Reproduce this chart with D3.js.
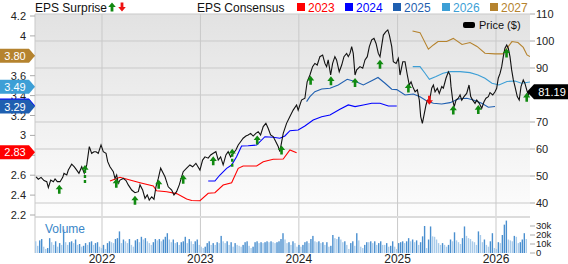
<!DOCTYPE html>
<html><head><meta charset="utf-8">
<script src="https://cdn.jsdelivr.net/npm/d3@7"></script>
<style>
body{margin:0;background:#fff;}
svg{display:block;font-family:"Liberation Sans",Arial,sans-serif;}
</style></head><body>
<div id="viz"></div>
<script>
// ---------------- data (dates as decimal years) ----------------
var years = [2022, 2023, 2024, 2025, 2026];
var priceTicks = [40, 50, 60, 70, 80, 90, 100, 110];
var epsTicks = [2.2, 2.4, 2.6, 2.8, 3, 3.2, 3.4, 3.6, 3.8, 4, 4.2];
var volTicks = [0, 10, 20, 30];

var priceT = [2021.330,2021.353,2021.381,2021.411,2021.439,2021.455,2021.479,2021.506,2021.523,2021.546,2021.574,2021.601,2021.614,2021.642,2021.658,2021.692,2021.719,2021.743,2021.766,2021.794,2021.820,2021.845,2021.871,2021.895,2021.919,2021.939,2021.962,2021.990,2022.013,2022.041,2022.058,2022.081,2022.115,2022.132,2022.149,2022.165,2022.183,2022.216,2022.244,2022.267,2022.302,2022.335,2022.369,2022.386,2022.413,2022.437,2022.460,2022.480,2022.505,2022.528,2022.548,2022.572,2022.596,2022.622,2022.640,2022.673,2022.708,2022.731,2022.758,2022.785,2022.809,2022.825,2022.860,2022.893,2022.921,2022.954,2022.995,2023.022,2023.046,2023.079,2023.104,2023.130,2023.157,2023.181,2023.205,2023.231,2023.259,2023.282,2023.307,2023.333,2023.360,2023.384,2023.408,2023.434,2023.462,2023.485,2023.510,2023.536,2023.563,2023.587,2023.611,2023.638,2023.665,2023.688,2023.713,2023.739,2023.766,2023.790,2023.807,2023.841,2023.875,2023.909,2023.942,2023.977,2023.993,2024.027,2024.061,2024.084,2024.112,2024.139,2024.162,2024.186,2024.213,2024.241,2024.264,2024.281,2024.297,2024.322,2024.342,2024.365,2024.382,2024.409,2024.434,2024.457,2024.484,2024.501,2024.518,2024.535,2024.551,2024.569,2024.586,2024.619,2024.647,2024.670,2024.693,2024.714,2024.738,2024.761,2024.782,2024.805,2024.822,2024.840,2024.856,2024.880,2024.901,2024.917,2024.941,2024.957,2024.985,2025.008,2025.025,2025.053,2025.076,2025.099,2025.119,2025.137,2025.154,2025.178,2025.201,2025.221,2025.235,2025.252,2025.269,2025.289,2025.303,2025.323,2025.347,2025.364,2025.381,2025.404,2025.424,2025.449,2025.465,2025.492,2025.516,2025.533,2025.543,2025.560,2025.576,2025.594,2025.617,2025.635,2025.652,2025.675,2025.702,2025.726,2025.743,2025.763,2025.787,2025.804,2025.830,2025.855,2025.878,2025.898,2025.922,2025.939,2025.967,2025.990,2026.007,2026.023,2026.041,2026.058,2026.074,2026.091,2026.109,2026.125,2026.142,2026.159,2026.176,2026.193,2026.216,2026.236,2026.254,2026.277,2026.294,2026.312,2026.328,2026.345];
var priceV = [49.7,48.8,49.5,48.3,47.9,45.7,48.5,47.9,48.9,47.9,47.9,49.5,51.0,50.4,52.2,54.4,53.4,52.2,51.0,53.4,51.0,54.1,60.9,58.4,59.0,59.0,58.4,61.5,59.0,58.4,55.3,53.4,51.6,49.1,50.4,47.3,48.5,49.1,48.3,46.7,44.8,43.8,44.2,46.7,44.8,41.7,43.0,41.1,42.3,41.4,46.0,49.1,52.9,51.0,49.7,46.0,44.8,43.0,44.2,46.7,49.7,51.6,52.9,54.1,53.4,54.7,52.2,55.9,57.1,56.6,57.8,58.4,59.0,55.9,57.1,54.1,57.8,59.0,57.1,58.4,59.6,61.5,62.7,64.0,64.8,65.2,65.8,64.8,65.8,66.4,65.2,68.3,69.5,67.7,65.2,64.6,62.7,60.9,59.0,65.8,69.5,72.0,74.4,76.3,74.4,78.1,78.8,84.9,87.4,90.5,91.7,91.1,94.2,94.8,91.7,90.5,93.0,87.4,91.7,94.2,93.0,88.6,91.1,94.2,95.4,94.2,95.4,97.9,95.4,87.4,89.3,90.5,89.9,93.0,94.2,97.9,100.4,101.0,99.1,95.4,94.2,98.5,102.2,103.4,104.1,102.2,97.9,92.3,91.7,93.6,87.4,92.3,92.3,87.4,83.7,84.9,83.1,81.2,81.9,78.1,72.0,69.5,72.6,76.3,78.1,77.5,82.5,83.7,81.2,82.5,80.6,83.1,82.5,86.2,88.6,87.4,83.1,78.1,75.7,78.1,78.8,80.0,78.1,79.4,80.6,83.7,79.4,78.1,76.9,78.1,76.9,75.1,77.5,78.8,79.4,80.9,80.0,81.2,82.5,86.2,88.0,90.5,94.2,97.3,98.5,97.3,94.2,89.3,85.6,83.1,79.4,78.1,83.1,85.6,84.3,81.9,80.0,81.19];

var eps2023T = [2022.081,2022.183,2022.284,2022.386,2022.521,2022.555,2022.657,2022.758,2022.860,2022.911,2022.995,2023.079,2023.147,2023.231,2023.317,2023.384,2023.434,2023.571,2023.638,2023.739,2023.841,2023.909,2023.977];
var eps2023V = [2.541,2.579,2.551,2.524,2.491,2.444,2.434,2.415,2.360,2.345,2.343,2.418,2.424,2.501,2.524,2.669,2.692,2.692,2.735,2.760,2.763,2.853,2.826];
var eps2024T = [2023.079,2023.147,2023.198,2023.266,2023.317,2023.367,2023.418,2023.485,2023.571,2023.655,2023.739,2023.807,2023.858,2023.909,2023.993,2024.061,2024.145,2024.231,2024.315,2024.416,2024.501,2024.569,2024.653,2024.738,2024.822,2024.907,2024.992];
var eps2024V = [2.541,2.541,2.602,2.669,2.702,2.786,2.893,2.896,2.903,2.987,2.981,2.971,2.994,3.047,3.054,3.095,3.155,3.188,3.205,3.263,3.306,3.289,3.306,3.323,3.323,3.296,3.296];
var eps2025T = [2024.078,2024.112,2024.162,2024.231,2024.315,2024.399,2024.490,2024.586,2024.653,2024.738,2024.802,2024.873,2024.941,2024.992,2025.076,2025.160,2025.228,2025.297,2025.364,2025.449,2025.533,2025.617,2025.703,2025.770,2025.855,2025.922,2025.990];
var eps2025V = [3.339,3.389,3.440,3.467,3.474,3.507,3.564,3.537,3.507,3.550,3.582,3.524,3.464,3.460,3.406,3.416,3.389,3.346,3.323,3.316,3.329,3.366,3.373,3.356,3.323,3.283,3.290];
var eps2026T = [2025.154,2025.228,2025.279,2025.323,2025.391,2025.462,2025.533,2025.635,2025.736,2025.817,2025.888,2025.959,2026.030,2026.112,2026.193,2026.259,2026.345];
var eps2026V = [3.691,3.691,3.625,3.564,3.591,3.625,3.641,3.641,3.631,3.608,3.574,3.524,3.507,3.542,3.547,3.524,3.537];
var eps2027T = [2025.152,2025.228,2025.313,2025.364,2025.411,2025.499,2025.566,2025.655,2025.736,2025.807,2025.888,2025.990,2026.071,2026.122,2026.162,2026.223,2026.277,2026.315,2026.345];
var eps2027V = [4.050,4.033,3.866,3.909,3.943,3.943,3.975,3.914,3.933,3.894,3.826,3.819,3.819,3.889,3.943,3.933,3.884,3.809,3.792];

var consNames = ['2023', '2024', '2025', '2026', '2027'];
var consColors = ['#ff0000', '#0000ff', '#1f5fb0', '#3d9fd6', '#b5832e'];
// the 2024 badge (3.30) sits almost fully under the 3.29 one
var badgeVals = [3.80, 3.49, 3.30, 3.29, 2.83];
var badgeColors = ['#b5832e', '#3d9fd6', '#0000ff', '#1f5fb0', '#ff0000'];
var badgeHidden = [0, 0, 1, 0, 0];
var lastPrice = 81.19;

var surpriseT = [2021.566,2021.827,2022.145,2022.335,2022.576,2022.825,2023.130,2023.323,2023.577,2023.824,2024.119,2024.325,2024.569,2024.822,2025.110,2025.323,2025.566,2025.820,2026.107,2026.312];
var surpriseDir = ['up','up','up','up','up','up','up','up','up','up','up','up','up','up','up','down','up','up','up','up'];
var surpriseDashed = [0,1,0,0,0,0,0,1,0,0,0,0,0,0,0,0,0,0,0,0];

// weekly volume, thousands
var volume = [13,8,14,15.5,7,4.5,5.5,16.5,12,9,13,7,11,9,26,12,9,12,13,11,15,9,10,7,8,11,9,12,13,9,11,12,7,5.5,9,4.5,11,13,12,11,15.5,16.5,24,11,15,13,11,15.5,9,7,14,15.5,12,18,15,16.5,13,11,9,12,15.5,14,15.5,13,15,18,22,15,12,15,11,12,9,12,13,18,11,15.5,13,10,13,15,9,7,5.5,7,11,13,9,11,9,12,11,19,13,11,13,9,12,7,11,9,8,7,9,12,13,8,5.5,7,12,13,11,12,11,12,13,12,13,12,11,12,13,15.5,22,15,11,12,9,13,11,7,9,
  7,9,12,13,11,15.5,19,13,12,13,11,12,9,12,7,8,20,16.5,15.5,18,15,12,13,9,4.5,11,13,8,22,14,7,5.5,9,12,12,13,11,13,9,11,13,9,9,11,7,8,13,7,4.5,11,12,13,11,13,16.5,13,15,12,14,9,12,18.5,30,5.5,15,29.5,18.5,18,15,11,9,11,9,7,9,15,13,23,14,12,10,16.5,29.5,19,16.5,15.5,13,12,9,24,20,12,15,9,7,13,22,5.5,4.5,12,11,20,31.5,36,15,14,13,19,18,11,12,15,22,15.5];

// ---------------- layout ----------------
var W = 568, H = 264;
var L = 35, R = 530, T = 14, PB = 216, VB = 253;

function toDate(t) {
  var y = Math.floor(t), a = new Date(y, 0, 1), b = new Date(y + 1, 0, 1);
  return new Date(+a + (t - y) * (b - a));
}

var x = d3.scaleTime().domain([toDate(2022), toDate(2026)]).range([102, 496]);
var yP = d3.scaleLinear().domain([40, 110]).range([203, 14]);
var yE = d3.scaleLinear().domain([2.2, 4.2]).range([215, 16]);
var yV = d3.scaleLinear().domain([0, 30]).range([VB, 226]);
var xb = d3.scaleBand().domain(d3.range(volume.length)).range([L, R - 3]).paddingInner(0.3);

var svg = d3.select('#viz').append('svg').attr('width', W).attr('height', H);

var defs = svg.append('defs');
var grad = defs.append('linearGradient').attr('id', 'bg').attr('x1', 0).attr('x2', 0).attr('y1', 0).attr('y2', 1);
grad.append('stop').attr('offset', '0%').attr('stop-color', '#e2e2e2');
grad.append('stop').attr('offset', '100%').attr('stop-color', '#fdfdfd');
defs.append('clipPath').attr('id', 'clip').append('rect')
  .attr('x', L).attr('y', T - 5).attr('width', R - L).attr('height', PB - T + 5);

svg.append('rect').attr('x', L).attr('y', T).attr('width', R - L).attr('height', PB - T).attr('fill', 'url(#bg)');

// grid
svg.append('g').selectAll('line').data(priceTicks).join('line')
  .attr('x1', L).attr('x2', R).attr('y1', function(d){ return yP(d); }).attr('y2', function(d){ return yP(d); })
  .attr('stroke', '#c9c9c9').attr('stroke-width', 1);
svg.append('g').selectAll('line').data(years).join('line')
  .attr('x1', function(d){ return x(toDate(d)); }).attr('x2', function(d){ return x(toDate(d)); })
  .attr('y1', T).attr('y2', VB).attr('stroke', '#c9c9c9').attr('stroke-width', 1);
svg.append('rect').attr('x', L).attr('y', PB).attr('width', R - L).attr('height', 2).attr('fill', '#dcdcdc');
svg.append('line').attr('x1', L).attr('x2', L).attr('y1', T).attr('y2', VB).attr('stroke', '#c9c9c9');

// volume
svg.append('text').attr('x', 45).attr('y', 233).attr('fill', '#3a86c8').attr('font-size', 12).text('Volume');
svg.append('g').selectAll('rect').data(volume).join('rect')
  .attr('x', function(d, i){ return xb(i); })
  .attr('width', xb.bandwidth())
  .attr('y', function(d){ return yV(d); })
  .attr('height', function(d){ return VB - yV(d); })
  .attr('fill', function(d, i){ return (i > 0 && d > volume[i - 1]) ? '#4a8fcf' : '#a9cbea'; });

// consensus lines
var cons = [[eps2023T, eps2023V], [eps2024T, eps2024V], [eps2025T, eps2025V], [eps2026T, eps2026V], [eps2027T, eps2027V]];
var eLine = d3.line().x(function(d){ return x(toDate(d[0])); }).y(function(d){ return yE(d[1]); });
var plot = svg.append('g').attr('clip-path', 'url(#clip)');
cons.forEach(function(c, k) {
  plot.append('path').datum(d3.zip(c[0], c[1])).attr('d', eLine)
    .attr('fill', 'none').attr('stroke', consColors[k]).attr('stroke-width', 1.1);
});

// price
var pData = d3.zip(priceT, priceV);
var pLine = d3.line().x(function(d){ return x(toDate(d[0])); }).y(function(d){ return yP(d[1]); });
plot.append('path').datum(pData).attr('d', pLine).attr('fill', 'none').attr('stroke', '#111').attr('stroke-width', 1.1);

// surprise arrows
var bis = d3.bisector(function(d){ return d[0]; }).left;
function priceAt(t) {
  var i = Math.max(1, Math.min(pData.length - 1, bis(pData, t)));
  var a = pData[i - 1], b = pData[i];
  return a[1] + (b[1] - a[1]) * (t - a[0]) / (b[0] - a[0]);
}
var upPath = 'M0,0L-3.6,4.6L-1.3,4.6L-1.3,9L1.3,9L1.3,4.6L3.6,4.6Z';
var downPath = 'M0,0L-3.6,-4.6L-1.3,-4.6L-1.3,-9L1.3,-9L1.3,-4.6L3.6,-4.6Z';
surpriseT.forEach(function(t, i) {
  var px = x(toDate(t)), py = yP(priceAt(t));
  if (surpriseDir[i] === 'down') {
    svg.append('path').attr('d', downPath).attr('transform', 'translate(' + px + ',' + (py + 3) + ')').attr('fill', '#ee1111');
  } else if (surpriseDashed[i]) {
    svg.append('path').attr('d', 'M0,0L-3.6,4.8L3.6,4.8Z').attr('transform', 'translate(' + px + ',' + (py - 6) + ')').attr('fill', '#118a11');
    svg.append('line').attr('x1', px).attr('x2', px).attr('y1', py - 1).attr('y2', py + 14)
      .attr('stroke', '#118a11').attr('stroke-width', 2.4).attr('stroke-dasharray', '3,2');
  } else {
    svg.append('path').attr('d', upPath).attr('transform', 'translate(' + px + ',' + (py + 3) + ')').attr('fill', '#118a11');
  }
});

// left axis (labels hidden under a badge are left out, as in the source)
function underBadge(y, ys) {
  return ys.some(function(b){ return Math.abs(b - y) < 8; });
}
var badgeYs = badgeVals.map(function(v){ return yE(v); });
var la = svg.append('g').attr('font-size', 11).attr('fill', '#222');
epsTicks.forEach(function(v) {
  la.append('line').attr('x1', 30).attr('x2', L).attr('y1', yE(v)).attr('y2', yE(v)).attr('stroke', '#aaa');
  if (!underBadge(yE(v), badgeYs))
    la.append('text').attr('x', 26).attr('y', yE(v) + 4).attr('text-anchor', 'end').text(d3.format('~g')(v));
});
badgeVals.forEach(function(v, k) {
  var y = yE(v);
  svg.append('path').attr('d', 'M0,' + (y - 7) + 'H29L35,' + y + 'L29,' + (y + 7) + 'H0Z').attr('fill', badgeColors[k]);
  if (!badgeHidden[k])
    svg.append('text').attr('x', 15).attr('y', y + 4).attr('text-anchor', 'middle').attr('fill', '#fff')
      .attr('font-size', 11).text(d3.format('.2f')(v));
});

// right axis
var ly = yP(lastPrice);
var ra = svg.append('g').attr('font-size', 11).attr('fill', '#222');
priceTicks.forEach(function(v) {
  ra.append('line').attr('x1', R).attr('x2', R + 5).attr('y1', yP(v)).attr('y2', yP(v)).attr('stroke', '#aaa');
  if (!underBadge(yP(v), [ly]))
    ra.append('text').attr('x', R + 6).attr('y', yP(v) + 4).text(v);
});
volTicks.forEach(function(v) {
  ra.append('line').attr('x1', R).attr('x2', R + 5).attr('y1', yV(v)).attr('y2', yV(v)).attr('stroke', '#aaa');
  ra.append('text').attr('x', R + 6).attr('y', yV(v) + 3.3).attr('font-size', 9.5).text(v === 0 ? '0' : v + 'k');
});
svg.append('path').attr('d', 'M527,' + ly + 'L534,' + (ly - 7.5) + 'H568V' + (ly + 7.5) + 'H534Z').attr('fill', '#000');
svg.append('text').attr('x', 552).attr('y', ly + 4).attr('text-anchor', 'middle').attr('fill', '#fff').attr('font-size', 11).text(lastPrice);

// x axis
svg.append('g').selectAll('text').data(years).join('text')
  .attr('x', function(d){ return x(toDate(d)); }).attr('y', 262.5)
  .attr('text-anchor', 'middle').attr('font-size', 12).attr('fill', '#222').text(function(d){ return d; });

// legends
svg.append('text').attr('x', 35).attr('y', 11.5).attr('font-size', 12).attr('fill', '#111').text('EPS Surprise');
svg.append('path').attr('d', 'M0,0L-3.8,4.5L-1.4,4.5L-1.4,9L1.4,9L1.4,4.5L3.8,4.5Z').attr('transform', 'translate(112,2.5)').attr('fill', '#118a11');
svg.append('path').attr('d', 'M0,0L-3.8,-4.5L-1.4,-4.5L-1.4,-9L1.4,-9L1.4,-4.5L3.8,-4.5Z').attr('transform', 'translate(122,11.5)').attr('fill', '#ee1111');
svg.append('text').attr('x', 197).attr('y', 11.5).attr('font-size', 12).attr('fill', '#111').text('EPS Consensus');
var legX = [297, 345, 393, 442, 490];
consNames.forEach(function(n, k) {
  svg.append('rect').attr('x', legX[k]).attr('y', 3).attr('width', 8).attr('height', 8).attr('fill', consColors[k]);
  svg.append('text').attr('x', legX[k] + 11).attr('y', 11.5).attr('font-size', 12).attr('fill', consColors[k]).text(n);
});
svg.append('rect').attr('x', 463).attr('y', 22).attr('width', 12).attr('height', 6).attr('rx', 2).attr('fill', '#000');
svg.append('text').attr('x', 479).attr('y', 29).attr('font-size', 11).attr('fill', '#111').text('Price ($)');
</script></body></html>
